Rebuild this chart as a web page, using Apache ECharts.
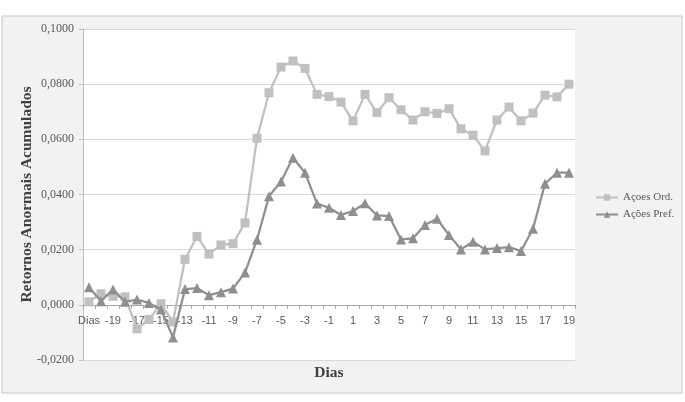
<!DOCTYPE html>
<html>
<head>
<meta charset="utf-8">
<script src="https://cdn.jsdelivr.net/npm/echarts@6/dist/echarts.min.js"></script>
<style>html,body{margin:0;padding:0;background:#fff;}#c{width:685px;height:402px;}</style>
</head>
<body>
<div id="c"></div>
<script>
var categories = ["Dias","-20","-19","-18","-17","-16","-15","-14","-13","-12","-11","-10","-9","-8","-7","-6","-5","-4","-3","-2","-1","0","1","2","3","4","5","6","7","8","9","10","11","12","13","14","15","16","17","18","19"];
var acoesOrd = [0.0011,0.0040,0.0031,0.0029,-0.0087,-0.0053,0.0004,-0.0062,0.0165,0.0248,0.0184,0.0217,0.0222,0.0297,0.0604,0.0769,0.0862,0.0884,0.0857,0.0763,0.0755,0.0735,0.0667,0.0763,0.0697,0.0751,0.0707,0.0670,0.0700,0.0694,0.0711,0.0638,0.0615,0.0558,0.0670,0.0717,0.0667,0.0695,0.0760,0.0754,0.0800];
var acoesPref = [0.0064,0.0013,0.0056,0.0011,0.0019,0.0007,-0.0017,-0.0118,0.0057,0.0061,0.0035,0.0046,0.0059,0.0117,0.0236,0.0394,0.0447,0.0533,0.0479,0.0367,0.0352,0.0326,0.0340,0.0368,0.0324,0.0322,0.0237,0.0241,0.0289,0.0312,0.0253,0.0201,0.0229,0.0201,0.0206,0.0209,0.0195,0.0276,0.0439,0.0479,0.0479];
var seriesNames = ["Açoes Ord.","Ações Pref."];

var chart = echarts.init(document.getElementById('c'), null, {renderer:'canvas'});
var fmt = function(v){ var s = Math.abs(v).toFixed(4).replace('.', ','); return (v < -1e-9 ? '-' : '') + s; };
chart.setOption({
  animation:false,
  backgroundColor:'#ffffff',
  graphic:[{type:'rect',z:-10,silent:true,shape:{x:2,y:16,width:680,height:377},style:{fill:'#f2f2f2',stroke:'#c8c8c8',lineWidth:1}}],
  grid:{left:83,right:110,top:29,bottom:42,show:true,backgroundColor:'#ffffff',borderWidth:0,containLabel:false,outerBoundsMode:'none'},
  legend:{
    orient:'vertical',left:590,top:187,itemGap:6,itemWidth:22,itemHeight:8,
    textStyle:{fontFamily:'Liberation Serif',fontSize:11,color:'#595959'},
    data:seriesNames
  },
  xAxis:{
    type:'category',data:categories,boundaryGap:true,
    name:'Dias',nameLocation:'middle',nameGap:5,nameMoveOverlap:false,
    nameTextStyle:{fontFamily:'Liberation Serif',fontWeight:'bold',fontSize:15.5,color:'#404040'},
    axisLine:{onZero:true,lineStyle:{color:'#a6a6a6',width:1}},
    axisTick:{show:true,interval:0,length:4,lineStyle:{color:'#a6a6a6'}},
    axisLabel:{interval:1,fontFamily:'Liberation Sans',fontSize:11,color:'#595959',margin:-45},
    splitLine:{show:false}
  },
  yAxis:{
    type:'value',min:-0.02,max:0.1,interval:0.02,
    name:'Retornos Anormais Acumulados',nameLocation:'middle',nameGap:48,nameMoveOverlap:false,
    nameTextStyle:{fontFamily:'Liberation Serif',fontWeight:'bold',fontSize:15.5,color:'#404040'},
    axisLine:{show:true,lineStyle:{color:'#bfbfbf'}},
    axisTick:{show:true,length:4,lineStyle:{color:'#bfbfbf'}},
    axisLabel:{formatter:fmt,fontFamily:'Liberation Serif',fontSize:12,color:'#595959',margin:9},
    splitLine:{show:true,lineStyle:{color:'#d9d9d9',width:1}}
  },
  series:[
    {name:seriesNames[0],type:'line',data:acoesOrd,symbol:'rect',symbolSize:9,showAllSymbol:true,
     lineStyle:{color:'#c0c0c0',width:2.25},itemStyle:{color:'#c0c0c0'},z:2},
    {name:seriesNames[1],type:'line',data:acoesPref,symbol:'triangle',symbolSize:10,showAllSymbol:true,
     lineStyle:{color:'#8f8f8f',width:2.25},itemStyle:{color:'#8f8f8f'},z:3}
  ]
});
</script>
</body>
</html>
